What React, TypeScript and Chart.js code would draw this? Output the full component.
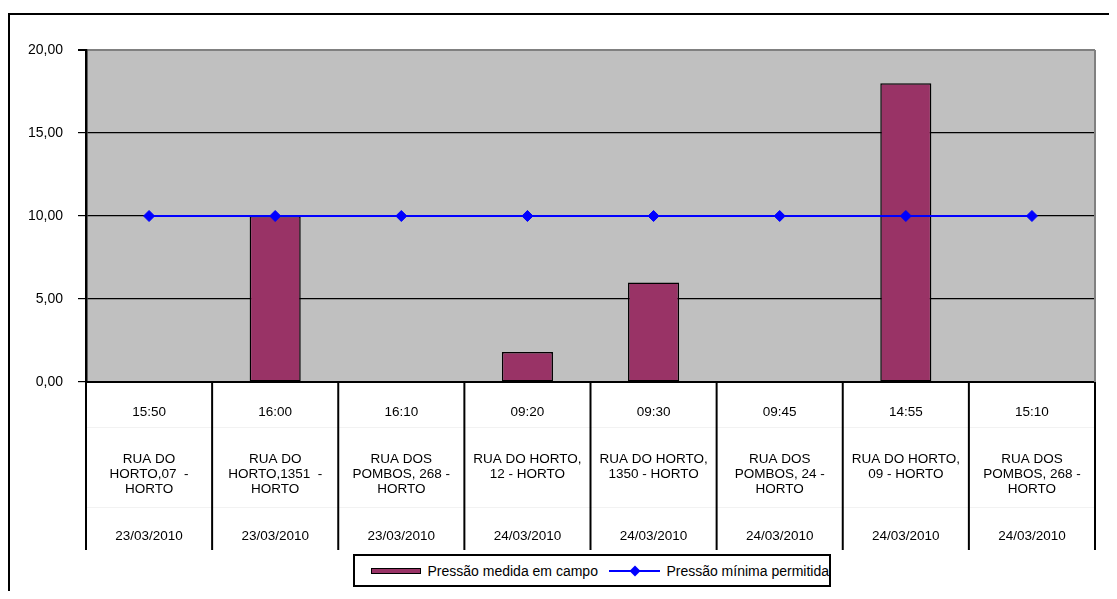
// Pressão medida x pressão mínima - gráfico de barras + linha
import React, { useRef, useEffect } from 'react';
import { Chart, ChartConfiguration, registerables } from 'chart.js';

Chart.register(...registerables);

const horarios = ['15:50', '16:00', '16:10', '09:20', '09:30', '09:45', '14:55', '15:10'];
const enderecos = [
  ['RUA DO', 'HORTO,07  -', 'HORTO'],
  ['RUA DO', 'HORTO,1351  -', 'HORTO'],
  ['RUA DOS', 'POMBOS, 268 -', 'HORTO'],
  ['RUA DO HORTO,', '12 - HORTO'],
  ['RUA DO HORTO,', '1350 - HORTO'],
  ['RUA DOS', 'POMBOS, 24 -', 'HORTO'],
  ['RUA DO HORTO,', '09 - HORTO'],
  ['RUA DOS', 'POMBOS, 268 -', 'HORTO'],
];
const datas = [
  '23/03/2010', '23/03/2010', '23/03/2010', '24/03/2010',
  '24/03/2010', '24/03/2010', '24/03/2010', '24/03/2010',
];
const pressaoMedida = [null, 10, null, 1.8, 6, null, 18, null];
const pressaoMinima = [10, 10, 10, 10, 10, 10, 10, 10];
const yMin = 0;
const yMax = 20;
const yStep = 5;

const FONTE = '"Liberation Sans", Arial, sans-serif';

// cada rótulo: hora, endereço (até 3 linhas) e data, em linhas de altura fixa
const rotulos = horarios.map((h, i) => {
  const end = [...enderecos[i]];
  while (end.length < 3) end.push('');
  return [h, '', '', ...end, '', '', datas[i]];
});

const formatBR = (v: number) => v.toFixed(2).replace('.', ',');

const moldura = {
  id: 'moldura',
  beforeDraw(chart: Chart) {
    const { ctx, chartArea } = chart;
    ctx.save();
    ctx.fillStyle = '#C0C0C0';
    ctx.fillRect(chartArea.left, chartArea.top, chartArea.right - chartArea.left, chartArea.bottom - chartArea.top);
    ctx.restore();
  },
  afterDraw(chart: Chart) {
    const { ctx, chartArea } = chart;
    const x = chart.scales.x;
    const n = rotulos.length;
    ctx.save();
    // borda direita da área de plotagem
    ctx.strokeStyle = '#808080';
    ctx.lineWidth = 2;
    ctx.beginPath();
    ctx.moveTo(chartArea.right, chartArea.top);
    ctx.lineTo(chartArea.right, chartArea.bottom);
    ctx.stroke();
    // linhas horizontais claras entre os níveis
    ctx.strokeStyle = '#F2F2F2';
    ctx.lineWidth = 1;
    [45, 125].forEach(off => {
      ctx.beginPath();
      ctx.moveTo(x.left, chartArea.bottom + off + 0.5);
      ctx.lineTo(x.right, chartArea.bottom + off + 0.5);
      ctx.stroke();
    });
    // divisórias entre categorias
    ctx.strokeStyle = '#000';
    ctx.lineWidth = 2;
    for (let i = 0; i <= n; i++) {
      let px;
      if (i === 0) px = x.left;
      else if (i === n) px = x.right;
      else px = (x.getPixelForValue(i - 1) + x.getPixelForValue(i)) / 2;
      ctx.beginPath();
      ctx.moveTo(px, chartArea.bottom);
      ctx.lineTo(px, x.bottom);
      ctx.stroke();
    }
    ctx.restore();
  },
};

const App: React.FC = () => {
  const chartRef = useRef<HTMLCanvasElement>(null);
  const chartInstance = useRef<Chart | null>(null);

  useEffect(() => {
    if (chartRef.current && !chartInstance.current) {
      const config: ChartConfiguration = {
        type: 'bar',
        data: {
          labels: rotulos as any,
          datasets: [
            {
              type: 'line',
              label: 'Pressão mínima permitida',
              data: pressaoMinima,
              borderColor: '#0000FF',
              backgroundColor: '#0000FF',
              borderWidth: 2,
              pointStyle: 'rectRot',
              pointRadius: 5.5,
              pointBorderWidth: 1,
              tension: 0,
              order: 0,
            },
            {
              type: 'bar',
              label: 'Pressão medida em campo',
              data: pressaoMedida,
              backgroundColor: '#993366',
              borderColor: '#000000',
              borderWidth: 1.5,
              borderSkipped: false,
              categoryPercentage: 1,
              barPercentage: 0.405,
              order: 1,
            },
          ],
        } as any,
        options: {
          animation: false,
          responsive: true,
          maintainAspectRatio: false,
          events: [],
          layout: { padding: { top: 35, right: 15, left: 0, bottom: 0 } },
          plugins: {
            legend: { display: false },
            tooltip: { enabled: false },
          },
          scales: {
            x: {
              grid: { display: false, drawTicks: false },
              border: { display: true, color: '#000', width: 2 },
              ticks: {
                color: '#000',
                font: { family: FONTE, size: 13.5, lineHeight: 1.14 },
                padding: 23,
                maxRotation: 0,
                autoSkip: false,
              },
              afterFit: (scale: any) => { scale.height = 168; },
            },
            y: {
              min: yMin,
              max: yMax,
              grid: {
                color: (c: any) => (c.tick && c.tick.value === yMax ? '#808080' : '#000000'),
                lineWidth: (c: any) => (c.tick && c.tick.value === yMax ? 2 : 1.2),
                tickLength: 8,
                tickColor: '#000',
              },
              border: { display: true, color: '#000', width: 2.5 },
              ticks: {
                stepSize: yStep,
                color: '#000',
                padding: 15,
                font: { family: FONTE, size: 14 },
                callback: (v: any) => formatBR(Number(v)),
              },
              afterFit: (scale: any) => { scale.width = 76; },
            },
          },
        },
        plugins: [moldura],
      };
      chartInstance.current = new Chart(chartRef.current, config);
    }
    return () => {
      if (chartInstance.current) {
        chartInstance.current.destroy();
        chartInstance.current = null;
      }
    };
  }, []);

  return (
    <div
      style={{
        position: 'relative',
        marginTop: 5,
        width: 1109,
        height: 578,
        borderTop: '2px solid #000',
        borderLeft: '2px solid #000',
        boxSizing: 'border-box',
        fontFamily: FONTE,
        background: '#fff',
      }}
    >
      <div style={{ position: 'absolute', left: 0, top: 0, width: 1100, height: 535 }}>
        <canvas ref={chartRef}></canvas>
      </div>
      {/* legenda */}
      <div
        style={{
          position: 'absolute',
          left: 343,
          top: 539,
          width: 478,
          height: 33,
          border: '2px solid #000',
          boxSizing: 'border-box',
          display: 'flex',
          alignItems: 'center',
          fontSize: 14,
          color: '#000',
          whiteSpace: 'nowrap',
        }}
      >
        <span
          style={{
            marginLeft: 16,
            width: 50,
            height: 6,
            background: '#993366',
            border: '1px solid #000',
            boxSizing: 'border-box',
            display: 'inline-block',
          }}
        />
        <span style={{ marginLeft: 7 }}>Pressão medida em campo</span>
        <svg width={52} height={14} style={{ marginLeft: 11 }}>
          <line x1={0} y1={7} x2={52} y2={7} stroke="#0000FF" strokeWidth={2} />
          <polygon points="26,1.5 31.5,7 26,12.5 20.5,7" fill="#0000FF" />
        </svg>
        <span style={{ marginLeft: 6 }}>Pressão mínima permitida</span>
      </div>
    </div>
  );
};

export default App;
